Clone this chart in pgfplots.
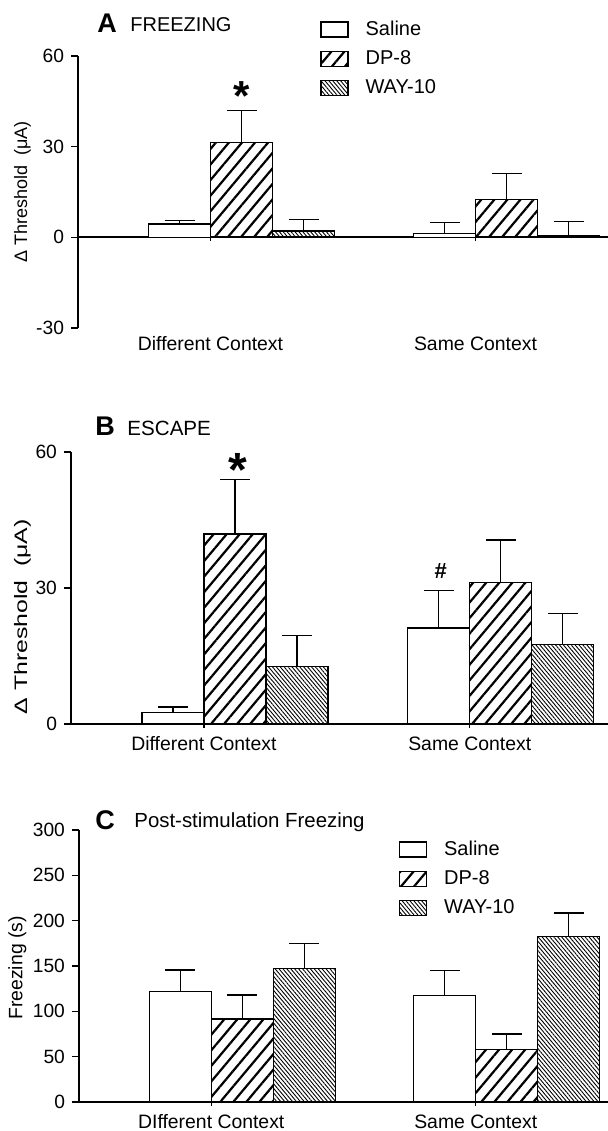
\documentclass[border=0pt]{standalone}
\usepackage{fontspec}
\setmainfont{Liberation Sans}
\usepackage{graphicx}
\usepackage{pgfplots}
\pgfplotsset{compat=1.18}
\usetikzlibrary{patterns.meta}

\tikzset{
  salfill/.style={fill=white},
  dpfill/.style={pattern={Lines[angle=50,distance=5pt,line width=1.1pt]}, pattern color=black},
  wayfill/.style={pattern={Lines[angle=-50,distance=1.5pt,line width=0.45pt]}, pattern color=black},
}

\pgfplotsset{
  myaxis/.style={
    scale only axis, height=136pt,
    axis y line=left,
    tick align=outside, major tick length=3.5pt, tick style={black, line width=0.7pt},
    xtick={0,1}, xticklabels={},
    ybar=0pt, bar width=31pt,
    enlargelimits=false, clip=false,
    /pgf/number format/assume math mode=true,
    ticklabel style={font=\fontsize{9.6}{11}\selectfont},
    ylabel style={font=\fontsize{9}{11}\selectfont, anchor=center},
    legend cell align=left,
    legend image code/.code={\draw[#1, line width=0.6pt] (0pt,-3.75pt) rectangle (13.5pt,3.75pt);},
    legend style={draw=none, fill=none, inner sep=0pt, row sep=2pt, column sep=6.5pt,
      anchor=north west, font=\fontsize{10}{12}\selectfont},
    error bars/y dir=plus, error bars/y explicit,
    error bars/error mark options={rotate=90, mark size=7.5pt, line width=0.6pt, black},
    error bars/error bar style={line width=0.6pt, black},
  },
  noarrows/.style={axis line style={-, line width=0.9pt}},
  sal/.style={draw=black, line width=0.6pt, salfill, bar shift=-15.5pt},
  dp/.style={draw=black, line width=0.6pt, dpfill, bar shift=15.5pt},
  way/.style={draw=black, line width=0.6pt, wayfill, bar shift=46.5pt},
}

\begin{document}
\begin{tikzpicture}
\path[use as bounding box] (0pt,0pt) rectangle (304pt,-565.5pt);

% ---------------- Panel A ----------------
\begin{axis}[myaxis, at={(39pt,-164pt)}, anchor=south west,
  width=265pt, xmin=-0.5, xmax=1.5, ymin=-30, ymax=60, ytick={-30,0,30,60},
  axis x line=middle, noarrows,
  ylabel={Δ Threshold\ \ (μA)},
  ylabel style={at={(axis description cs:-0.1047,0.5)}},
  legend style={at={(0.4566,1.146)}}]
\addplot[sal] coordinates {(0,4.4) +- (0,1.1) (1,1.3) +- (0,3.6)};
\addplot[dp]  coordinates {(0,31.5) +- (0,10.5) (1,12.6) +- (0,8.6)};
\addplot[way] coordinates {(0,2.1) +- (0,3.9) (1,0.5) +- (0,4.7)};
\legend{Saline, DP-8, WAY-10}
\node[anchor=base, font=\fontsize{9.7}{11}\selectfont] at (axis cs:0,-37.4) {Different Context};
\node[anchor=base, font=\fontsize{9.7}{11}\selectfont] at (axis cs:1,-37.4) {Same Context};
\node[anchor=base, inner sep=0pt, font=\fontsize{21}{21}\selectfont\bfseries, xshift=15.5pt] at (axis cs:0,42.1) {*};
\end{axis}

% ---------------- Panel B ----------------
\begin{axis}[myaxis, at={(35.5pt,-362pt)}, anchor=south west,
  width=268.5pt, xmin=-0.5, xmax=1.52, ymin=0, ymax=60, ytick={0,30,60},
  axis x line=bottom, noarrows,
  ylabel={\scalebox{1.38}[1]{Δ Threshold\ \ (μA)}},
  ylabel style={at={(axis description cs:-0.0903,0.394)}}]
\addplot[sal] coordinates {(0,2.6) +- (0,1.15) (1,21.2) +- (0,8.3)};
\addplot[dp]  coordinates {(0,41.9) +- (0,12.0) (1,31.3) +- (0,9.3)};
\addplot[way] coordinates {(0,12.6) +- (0,6.9) (1,17.6) +- (0,6.7)};
\node[anchor=base, font=\fontsize{9.7}{11}\selectfont] at (axis cs:0,-5.74) {Different Context};
\node[anchor=base, font=\fontsize{9.7}{11}\selectfont] at (axis cs:1,-5.74) {Same Context};
\node[anchor=base, inner sep=0pt, font=\fontsize{24}{24}\selectfont\bfseries, xshift=17pt] at (axis cs:0,52.3) {*};
\node[anchor=base, inner sep=0pt, font=\fontsize{11}{11}\selectfont\bfseries, xshift=-14.5pt] at (axis cs:1,32) {\#};
\end{axis}

% ---------------- Panel C ----------------
\begin{axis}[myaxis, at={(39.5pt,-551pt)}, anchor=south west,
  width=264.5pt, xmin=-0.5, xmax=1.5, ymin=0, ymax=300, ytick={0,50,...,300},
  axis x line=bottom, noarrows,
  ylabel={Freezing (s)},
  ylabel style={font=\fontsize{9.7}{11}\selectfont, at={(axis description cs:-0.1163,0.493)}},
  legend style={at={(0.604,0.977)}}]
\addplot[sal] coordinates {(0,121.7) +- (0,23.9) (1,117.6) +- (0,27.4)};
\addplot[dp]  coordinates {(0,91.5) +- (0,26.5) (1,58) +- (0,17)};
\addplot[way] coordinates {(0,147) +- (0,28) (1,182.3) +- (0,26.1)};
\legend{Saline, DP-8, WAY-10}
\node[anchor=base, font=\fontsize{9.7}{11}\selectfont] at (axis cs:0,-28.7) {DIfferent Context};
\node[anchor=base, font=\fontsize{9.7}{11}\selectfont] at (axis cs:1,-28.7) {Same Context};
\end{axis}

% ---------------- Panel titles ----------------
\node[anchor=base west, inner sep=0pt, font=\fontsize{13.5}{14}\selectfont\bfseries] at (48.5pt,-16pt) {A};
\node[anchor=base west, inner sep=0pt, font=\fontsize{10}{12}\selectfont] at (65pt,-15.8pt) {FREEZING};
\node[anchor=base west, inner sep=0pt, font=\fontsize{13.5}{14}\selectfont\bfseries] at (47.5pt,-217.5pt) {B};
\node[anchor=base west, inner sep=0pt, font=\fontsize{10.3}{12}\selectfont] at (63.5pt,-217.5pt) {ESCAPE};
\node[anchor=base west, inner sep=0pt, font=\fontsize{13.5}{14}\selectfont\bfseries] at (47.5pt,-414.5pt) {C};
\node[anchor=base west, inner sep=0pt, font=\fontsize{10.2}{12}\selectfont] at (67pt,-413.5pt) {Post-stimulation Freezing};
\end{tikzpicture}
\end{document}
